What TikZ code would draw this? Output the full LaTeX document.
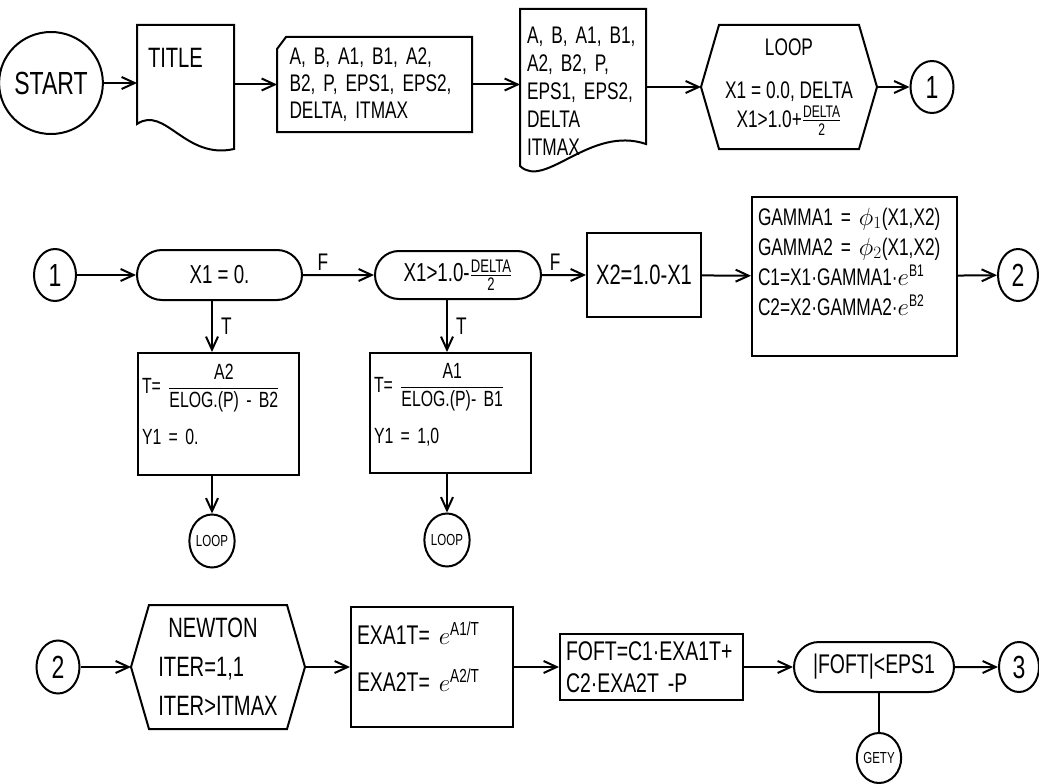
\documentclass[tikz,border=0pt]{standalone}
\usepackage{fontspec}
\setmainfont[FakeStretch=0.72]{Liberation Sans}
\usepackage{amsmath}
\usetikzlibrary{shapes.geometric,shapes.misc,arrows.meta}

\newcommand{\fs}[2]{\fontsize{#1}{#2}\selectfont}

\begin{document}
\begin{tikzpicture}[>={Straight Barb[length=13pt,width=12pt]},x=1pt,y=-1pt,line width=2pt,
  every node/.style={inner sep=0pt,font=\fs{24}{27}},
  conn/.style={ellipse,draw,minimum width=42pt,minimum height=52pt,font=\fs{32}{32}},
  tinyconn/.style={conn,font=\fs{16}{16}},
  card/.style={rectangle,align=left},
  box/.style={rectangle,draw,align=left},
  cond/.style={rounded rectangle,draw,minimum height=50pt}]

\useasboundingbox (0,0) rectangle (1039,784);

\node(start) at (51,83)[ellipse,draw,minimum width=87pt,minimum height=102pt,font=\fs{32}{32}] {START};
\node(title) at (185.5,88)[minimum width=95pt,minimum height=124pt] {};
\node(titletxt) at (147,58)[anchor=west,font=\fs{28}{28}] {TITLE};
\node(inp) at (374.5,84.5)[card,text width=170pt,inner xsep=11.5pt,minimum height=93pt] {A, B, A1, B1, A2,\\B2, P, EPS1, EPS2,\\DELTA, ITMAX};
\node(lst) at (583,91.5)[card,text width=112pt,inner xsep=6pt,minimum height=163pt,font=\fs{24}{28}] {A, B, A1, B1,\\A2, B2, P,\\EPS1, EPS2,\\DELTA\\ITMAX};
\node(loop) at (789,87)[minimum width=174pt,minimum height=122pt,align=center] {LOOP\\[16pt]X1 = 0.0, DELTA\\[2pt]X1>1.0+$\frac{\text{DELTA}}{\text{2}}$};
\node(c1) at (932,87)[conn,minimum width=43pt] {1};

\node(c1b) at (55,275)[conn] {1};
\node(rr1) at (219.5,275)[cond,minimum width=165pt,font=\fs{26}{26}] {X1 = 0.};
\node(rr2) at (458,275)[cond,minimum width=166pt,minimum height=48pt,font=\fs{26}{26}] {X1>1.0-$\frac{\text{DELTA}}{\text{2}}$};
\node(x2) at (644,275)[box,minimum width=114pt,minimum height=84pt,font=\fs{28}{28}] {X2=1.0-X1};
\node(gam) at (854.5,276.5)[box,text width=193pt,inner xsep=6pt,minimum height=159pt,font=\fs{24}{30}] {GAMMA1 = $\phi_1$(X1,X2)\\GAMMA2 = $\phi_2$(X1,X2)\\C1=X1·GAMMA1·$e^{\text{B1}}$\\C2=X2·GAMMA2·$e^{\text{B2}}$\\\mbox{}};
\node(c2) at (1018,275)[conn,minimum width=40pt] {2};
\node(tb1) at (218.5,414)[box,text width=153pt,inner xsep=4pt,minimum height=122pt,font=\fs{22}{27}] {T= $\dfrac{\text{A2}}{\text{ELOG.(P) - B2}}$\\[16pt]Y1 = 0.\\[-8pt]\mbox{}};
\node(tb2) at (450.5,413)[box,text width=153pt,inner xsep=4pt,minimum height=120pt,font=\fs{22}{27}] {T= $\dfrac{\text{A1}}{\text{ELOG.(P)- B1}}$\\[16pt]Y1 = 1,0\\[-8pt]\mbox{}};
\node(lp1) at (212,541)[tinyconn,minimum height=53pt] {LOOP};
\node(lp2) at (447,540)[tinyconn,minimum height=53pt] {LOOP};

\node(c2b) at (58,667)[conn,minimum width=43pt,minimum height=53pt] {2};
\node(newt) at (218,667)[minimum width=172pt,minimum height=122pt,align=left,font=\fs{28}{28}] {\hspace*{10pt}NEWTON\\[11pt]ITER=1,1\\[11pt]ITER>ITMAX};
\node(exa) at (432,667)[box,text width=150pt,inner xsep=6pt,minimum height=120pt,font=\fs{27}{47}] {EXA1T= $e^{\text{A1/T}}$\\EXA2T= $e^{\text{A2/T}}$\\[-27pt]\mbox{}};
\node(foft) at (651.5,667)[box,text width=171pt,inner xsep=6pt,minimum height=66pt,font=\fs{27}{32}] {FOFT=C1·EXA1T+\\C2·EXA2T -P};
\node(rr3) at (874,667)[cond,minimum width=160pt,font=\fs{27}{27}] {|FOFT|<EPS1};
\node(c3) at (1019,667)[conn,minimum width=40pt,minimum height=50pt] {3};
\node(gety) at (879,758)[tinyconn,minimum width=40pt,minimum height=50pt] {GETY};

\draw (title.north west) -- (title.north east) -- ([yshift=2pt]title.south east) .. controls (185,160) and (165,105) .. ([yshift=27pt]title.south west) -- cycle;
\draw ([yshift=-12pt]inp.north west) -- ([xshift=9pt]inp.north west) -- (inp.north east) -- (inp.south east) -- (inp.south west) -- cycle;
\draw (lst.north west) -- (lst.north east) -- ([yshift=30pt]lst.south east) .. controls (590,125) and (545,190) .. ([yshift=8pt]lst.south west) -- cycle;
\foreach \n in {loop,newt}
  \draw (\n.west) -- ([xshift=18pt]\n.north west) -- ([xshift=-18pt]\n.north east) -- (\n.east) -- ([xshift=-18pt]\n.south east) -- ([xshift=18pt]\n.south west) -- cycle;

\draw[->] (start) -- (start -| title.west);
\draw[->] (title.east |- inp) -- (inp.west);
\draw[->] (inp) -- (inp -| lst.west);
\draw[->] (lst.east |- loop) -- (loop);
\draw[->] (loop) -- (c1);

\draw[->] (c1b) -- (rr1);
\draw[->] (rr1) -- (rr2) node[pos=0.28,above=4pt](f1){F};
\draw[->] (rr2) -- (x2) node[pos=0.3,above=4pt](f2){F};
\draw[->] (x2) -- (gam);
\draw[->] (gam) -- (c2);
\draw[->] (rr1.south -| lp1) -- (tb1.north -| lp1) node[midway,right=8pt](t1){T};
\draw[->] (rr2.south -| lp2) -- (tb2.north -| lp2) node[midway,right=8pt](t2){T};
\draw[->] (tb1.south -| lp1) -- (lp1);
\draw[->] (tb2.south -| lp2) -- (lp2);

\draw[->] (c2b) -- (newt);
\draw[->] (newt) -- (exa);
\draw[->] (exa) -- (foft);
\draw[->] (foft) -- (rr3);
\draw[->] (rr3) -- (c3);
\draw (rr3.south -| gety) -- (gety);

\end{tikzpicture}
\end{document}
